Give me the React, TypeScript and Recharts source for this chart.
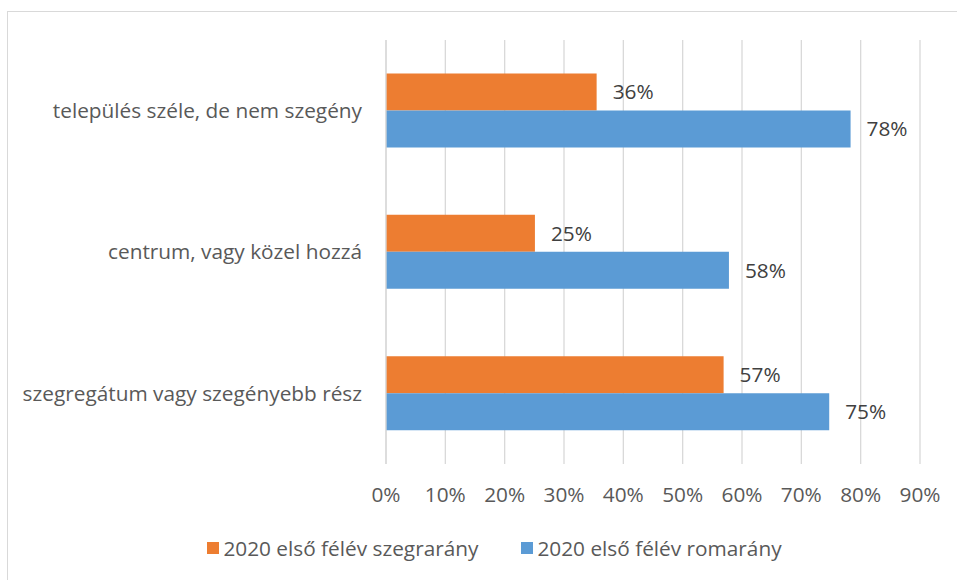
import React from 'react';
import { BarChart, Bar, XAxis, YAxis, CartesianGrid, LabelList } from 'recharts';

const categories = ['település széle, de nem szegény', 'centrum, vagy közel hozzá', 'szegregátum vagy szegényebb rész'];
const segrValues = [0.355, 0.251, 0.569];
const romaValues = [0.783, 0.578, 0.747];
const seriesNames = ['2020 első félév szegrarány', '2020 első félév romarány'];
const seriesColors = ['#ED7D31', '#5B9BD5'];
const xTicks = [0, 0.1, 0.2, 0.3, 0.4, 0.5, 0.6, 0.7, 0.8, 0.9];

const data = categories.map((c, i) => ({ name: c, segr: segrValues[i], roma: romaValues[i] }));

const FONT = '"Open Sans", Lato, sans-serif';
const FS = 20.8;
const pct = (v: number) => `${Math.round(v * 100)}%`;

export default function App() {
  return (
    <div style={{ position: 'absolute', left: 0, top: 0, width: 957, height: 580, background: '#fff' }}>
      <div style={{ position: 'absolute', left: 7, top: 11, right: 0, bottom: 0, borderLeft: '1px solid #d9d9d9', borderTop: '1px solid #d9d9d9' }} />
      <div style={{ position: 'absolute', left: 0, top: 0 }}>
        <BarChart
          width={957}
          height={580}
          data={data}
          layout="vertical"
          margin={{ top: 40, right: 37, bottom: 0, left: 0 }}
          barCategoryGap="23.7%"
          barGap={0}
        >
          <CartesianGrid horizontal={false} stroke="#d9d9d9" strokeWidth={1.3} />
          <XAxis
            type="number"
            domain={[0, 0.9]}
            ticks={xTicks}
            tickFormatter={pct}
            axisLine={false}
            tickLine={false}
            tickSize={0}
            tickMargin={23}
            interval={0}
            height={116}
            tick={{ fill: '#595959', fontSize: FS, fontFamily: FONT }}
          />
          <YAxis
            type="category"
            dataKey="name"
            width={386}
            axisLine={{ stroke: '#d9d9d9', strokeWidth: 1.3 }}
            tickLine={false}
            tickSize={0}
            tickMargin={24}
            tick={{ fill: '#595959', fontSize: FS, fontFamily: FONT }}
          />
          <Bar dataKey="segr" name={seriesNames[0]} fill={seriesColors[0]} isAnimationActive={false}>
            <LabelList dataKey="segr" position="right" offset={16} formatter={(v: any) => pct(Number(v))} style={{ fill: '#404040', fontSize: FS, fontFamily: FONT }} />
          </Bar>
          <Bar dataKey="roma" name={seriesNames[1]} fill={seriesColors[1]} isAnimationActive={false}>
            <LabelList dataKey="roma" position="right" offset={16} formatter={(v: any) => pct(Number(v))} style={{ fill: '#404040', fontSize: FS, fontFamily: FONT }} />
          </Bar>
        </BarChart>
      </div>
      <div style={{ position: 'absolute', top: 533, left: 16, width: 957, display: 'flex', justifyContent: 'center', fontFamily: FONT, fontSize: FS, color: '#595959', lineHeight: '30px' }}>
        {seriesNames.map((n, i) => (
          <div key={n} style={{ display: 'flex', alignItems: 'center', marginRight: i === 0 ? 43 : 0 }}>
            <span style={{ width: 12, height: 12, background: seriesColors[i], display: 'inline-block', marginRight: 4 }} />
            <span>{n}</span>
          </div>
        ))}
      </div>
    </div>
  );
}
